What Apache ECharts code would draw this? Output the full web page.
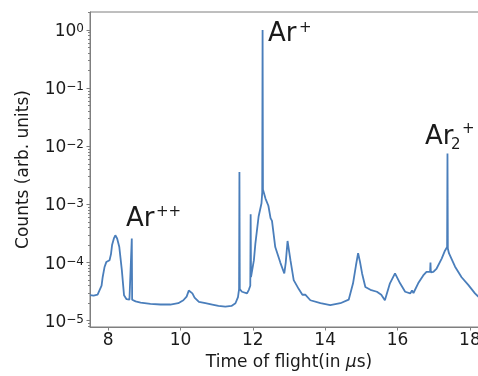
<!DOCTYPE html>
<html>
<head>
<meta charset="utf-8">
<script src="https://cdn.jsdelivr.net/npm/echarts@6/dist/echarts.min.js"></script>
<style>
html,body{margin:0;padding:0;background:#fff;}
#chart{width:478px;height:376px;}
</style>
</head>
<body>
<div id="chart"></div>
<script>
// Time of flight (µs) and normalised counts
const tof = [
  7.50, 7.60, 7.71, 7.76, 7.82, 7.85, 7.90, 7.95, 8.00, 8.04, 8.08, 8.11, 8.16, 8.20, 8.25, 8.31, 8.38, 8.44, 8.51, 8.59,
  8.645, 8.655, 8.665, 8.76, 8.90, 9.17, 9.45, 9.72, 9.94, 10.08, 10.17, 10.23, 10.28, 10.33, 10.39, 10.51, 10.69, 10.88, 11.05, 11.24,
  11.41, 11.52, 11.59, 11.62, 11.63, 11.64, 11.70, 11.84, 11.89, 11.93, 11.94, 11.95, 11.98, 12.03, 12.07, 12.16, 12.24, 12.26, 12.27, 12.28,
  12.35, 12.40, 12.43, 12.49, 12.53, 12.62, 12.76, 12.87, 12.91, 12.96, 13.04, 13.13, 13.27, 13.37, 13.45, 13.59, 13.87, 14.14, 14.42, 14.65,
  14.77, 14.85, 14.91, 14.96, 15.02, 15.11, 15.25, 15.43, 15.55, 15.65, 15.79, 15.93, 16.07, 16.21, 16.35, 16.40, 16.44, 16.57, 16.71, 16.80,
  16.90, 16.91, 16.92, 16.99, 17.08, 17.22, 17.31, 17.37, 17.38, 17.39, 17.42, 17.59, 17.77, 17.96, 18.14, 18.23, 18.40, 18.50
];
const counts = [
  2.75e-5, 2.7e-5, 2.8e-5, 3.0e-5, 4.0e-5, 5.6e-5, 8.3e-5, 1.02e-4, 1.1e-4, 1.1e-4, 1.4e-4, 2.0e-4, 2.6e-4, 2.95e-4, 2.6e-4, 1.85e-4, 7.4e-5, 2.75e-5, 2.35e-5, 2.3e-5,
  2.4e-5, 2.6e-4, 2.3e-5, 2.15e-5, 2.05e-5, 1.95e-5, 1.9e-5, 1.9e-5, 2.0e-5, 2.25e-5, 2.6e-5, 3.3e-5, 3.5e-5, 2.95e-5, 2.5e-5, 2.1e-5, 2.0e-5, 1.9e-5, 1.8e-5, 1.75e-5,
  1.8e-5, 2.0e-5, 2.55e-5, 3.5e-5, 3.6e-3, 3.5e-5, 3.15e-5, 2.95e-5, 3.4e-5, 4.0e-5, 6.8e-4, 5.6e-5, 6.0e-5, 1.1e-4, 2.1e-4, 6.2e-4, 1.05e-3, 1.6e-3, 1.0, 1.8e-3,
  1.26e-3, 1.17e-3, 9.5e-4, 5.8e-4, 5.2e-4, 1.85e-4, 1.0e-4, 6.5e-5, 1.0e-4, 2.35e-4, 1.1e-4, 5.0e-5, 3.5e-5, 2.8e-5, 2.8e-5, 2.25e-5, 2.0e-5, 1.85e-5, 2.0e-5, 2.3e-5,
  4.4e-5, 8.9e-5, 1.45e-4, 1.05e-4, 6.5e-5, 3.8e-5, 3.4e-5, 3.15e-5, 2.8e-5, 2.25e-5, 4.4e-5, 6.5e-5, 4.4e-5, 3.15e-5, 2.95e-5, 3.3e-5, 3.0e-5, 4.4e-5, 6.0e-5, 6.9e-5,
  6.9e-5, 1.0e-4, 6.8e-5, 6.9e-5, 7.9e-5, 1.17e-4, 1.6e-4, 1.85e-4, 7.5e-3, 1.75e-4, 1.45e-4, 8.5e-5, 5.6e-5, 4.1e-5, 2.95e-5, 2.6e-5, 2.25e-5, 2.1e-5
];
const xTicks = [8, 10, 12, 14, 16, 18];
const yMajorTicks = [1e-5, 1e-4, 1e-3, 1e-2, 1e-1, 1];
const yMinorTicks = [];
for (let e = -6; e <= 0; e++) {
  for (let k = 2; k <= 9; k++) yMinorTicks.push(Number((k * Math.pow(10, e)).toPrecision(3)));
}
const xLabel = 'Time of flight(in {i|μ}s)';
const yLabel = 'Counts (arb. units)';

const FONT = 'DejaVu Sans';
const AXIS_COLOR = '#7f7f7f';
const TEXT_COLOR = '#1a1a1a';
const LINE_COLOR = '#4a7ebb';

const chart = echarts.init(document.getElementById('chart'), null, {renderer: 'canvas'});

function expLabel(v) {
  const e = Math.round(Math.log10(v));
  const s = e < 0 ? '\u2212' + (-e) : String(e);
  return '{b|10}{s|' + s + '}';
}

const yMin = 7.8e-6, yMax = 2.04;

chart.setOption({
  animation: false,
  backgroundColor: '#fff',
  grid: {left: 90, right: -10, top: 12, bottom: 49, containLabel: false, outerBoundsMode: 'none',
         show: true, borderColor: AXIS_COLOR, borderWidth: 1},
  xAxis: {
    type: 'value', min: 7.5, max: 18.5,
    axisLine: {show: true, lineStyle: {color: AXIS_COLOR, width: 1}},
    axisTick: {show: true, length: 3.5, lineStyle: {color: AXIS_COLOR}, customValues: xTicks},
    axisLabel: {show: true, customValues: xTicks, color: TEXT_COLOR, fontFamily: FONT, fontSize: 17, margin: 5},
    splitLine: {show: false},
    name: xLabel, nameLocation: 'middle', nameGap: 20,
    nameTextStyle: {color: TEXT_COLOR, fontFamily: FONT, fontSize: 17,
      rich: {i: {fontStyle: 'italic', fontFamily: FONT, fontSize: 17, color: TEXT_COLOR}}}
  },
  yAxis: [{
    type: 'log', logBase: 10, min: yMin, max: yMax,
    axisLine: {show: true, lineStyle: {color: AXIS_COLOR, width: 1}},
    axisTick: {show: true, length: 3.5, lineStyle: {color: AXIS_COLOR}, customValues: yMajorTicks},
    axisLabel: {show: true, customValues: yMajorTicks, margin: 6, formatter: expLabel,
      rich: {
        b: {fontFamily: FONT, fontSize: 17, color: TEXT_COLOR, lineHeight: 20, padding: [4, 0, 0, 0], verticalAlign: 'bottom'},
        s: {fontFamily: FONT, fontSize: 12, color: TEXT_COLOR, lineHeight: 12, padding: [3, 0, 0, 0], verticalAlign: 'top'}
      }},
    splitLine: {show: false},
    minorTick: {show: false},
    name: yLabel, nameLocation: 'middle', nameGap: 58,
    nameTextStyle: {color: TEXT_COLOR, fontFamily: FONT, fontSize: 17}
  }, {
    type: 'log', logBase: 10, min: yMin, max: yMax, position: 'left',
    axisLine: {show: false},
    axisTick: {show: true, length: 2, lineStyle: {color: AXIS_COLOR}, customValues: yMinorTicks},
    axisLabel: {show: false},
    splitLine: {show: false}
  }],
  series: [{
    type: 'line',
    yAxisIndex: 0,
    data: tof.map((t, i) => [t, counts[i]]),
    showSymbol: false,
    symbol: 'none',
    clip: true,
    lineStyle: {color: LINE_COLOR, width: 1.8},
    itemStyle: {color: LINE_COLOR}
  }],
  graphic: [
    {type: 'text', x: 268, y: 34.5, style: {text: 'Ar', font: '26px "DejaVu Sans"', fill: TEXT_COLOR, verticalAlign: 'middle', align: 'left'}},
    {type: 'text', x: 299, y: 28, style: {text: '+', font: '15px "DejaVu Sans"', fill: TEXT_COLOR, verticalAlign: 'middle', align: 'left'}},
    {type: 'text', x: 126, y: 219, style: {text: 'Ar', font: '26px "DejaVu Sans"', fill: TEXT_COLOR, verticalAlign: 'middle', align: 'left'}},
    {type: 'text', x: 156, y: 212, style: {text: '++', font: '15px "DejaVu Sans"', fill: TEXT_COLOR, verticalAlign: 'middle', align: 'left'}},
    {type: 'text', x: 425, y: 137, style: {text: 'Ar', font: '26px "DejaVu Sans"', fill: TEXT_COLOR, verticalAlign: 'middle', align: 'left'}},
    {type: 'text', x: 451, y: 145.5, style: {text: '2', font: '15px "DejaVu Sans"', fill: TEXT_COLOR, verticalAlign: 'middle', align: 'left'}},
    {type: 'text', x: 462, y: 129, style: {text: '+', font: '15px "DejaVu Sans"', fill: TEXT_COLOR, verticalAlign: 'middle', align: 'left'}}
  ]
});
</script>
</body>
</html>
